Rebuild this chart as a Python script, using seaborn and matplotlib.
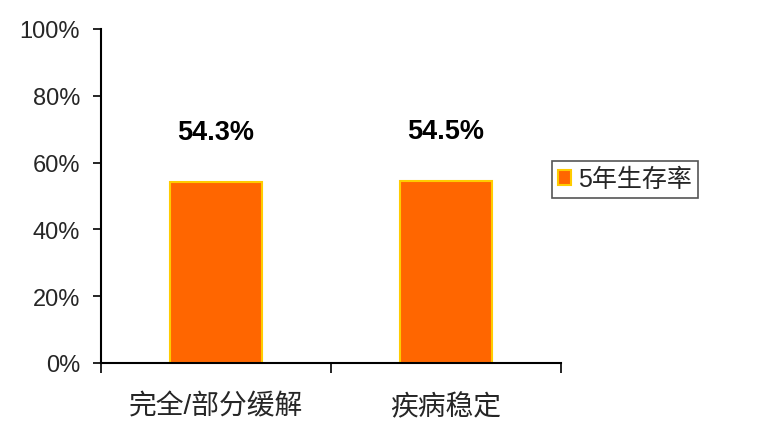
import matplotlib
matplotlib.use("Agg")
import matplotlib.pyplot as plt
import seaborn as sns
import pandas as pd
from matplotlib.ticker import FuncFormatter, FixedLocator

categories = ["完全/部分缓解", "疾病稳定"]
survival = [0.543, 0.545]
series_name = "5年生存率"
value_labels = ["54.3%", "54.5%"]
y_ticks = [0, 0.2, 0.4, 0.6, 0.8, 1.0]

sns.set_theme(style="white")
plt.rcParams['font.family'] = ['Liberation Sans', 'Noto Sans CJK SC', 'DejaVu Sans']

df = pd.DataFrame({"category": categories, "value": survival, "series": series_name})

fig = plt.figure(figsize=(7.68, 4.39), dpi=100)
ax = fig.add_axes([101/768, (439-364)/439, 460/768, 334/439])

sns.barplot(data=df, x="category", y="value", hue="series", ax=ax,
            palette=["#FF6600"], width=0.40, edgecolor="#FFCC00", linewidth=1.5,
            saturation=1)

ax.set_xlim(-0.5, 1.5)
ax.set_ylim(0, 1.0)
ax.set_xlabel("")
ax.set_ylabel("")

ax.yaxis.set_major_locator(FixedLocator(y_ticks))
ax.yaxis.set_major_formatter(FuncFormatter(lambda v, p: f"{v*100:.0f}%"))
ax.tick_params(axis="y", which="major", direction="out", length=6, width=1.2,
               color="black", labelsize=17, pad=9, left=True)
ax.tick_params(axis="x", which="major", length=0, labelsize=20, pad=22)
ax.set_xticks([-0.5, 0.5, 1.5], minor=True)
ax.tick_params(axis="x", which="minor", direction="out", length=7, width=1.2,
               color="black", bottom=True)

for s in ["top", "right"]:
    ax.spines[s].set_visible(False)
for s in ["left", "bottom"]:
    ax.spines[s].set_color("black")
    ax.spines[s].set_linewidth(1.5)

for i, (v, lab) in enumerate(zip(survival, value_labels)):
    ax.text(i, v + 0.15, lab, ha="center", va="center", fontsize=19.5,
            fontweight="bold", color="black")

leg = ax.legend(loc="upper left", bbox_to_anchor=(552/768, 1 - 162/439),
                bbox_transform=fig.transFigure, borderaxespad=0,
                fontsize=18, handlelength=0.5, handleheight=0.6,
                handletextpad=0.3, borderpad=0.25, fancybox=False,
                frameon=True, edgecolor="#555555", framealpha=1)
leg.get_frame().set_linewidth(1.2)

fig.savefig("out.png", dpi=100)
